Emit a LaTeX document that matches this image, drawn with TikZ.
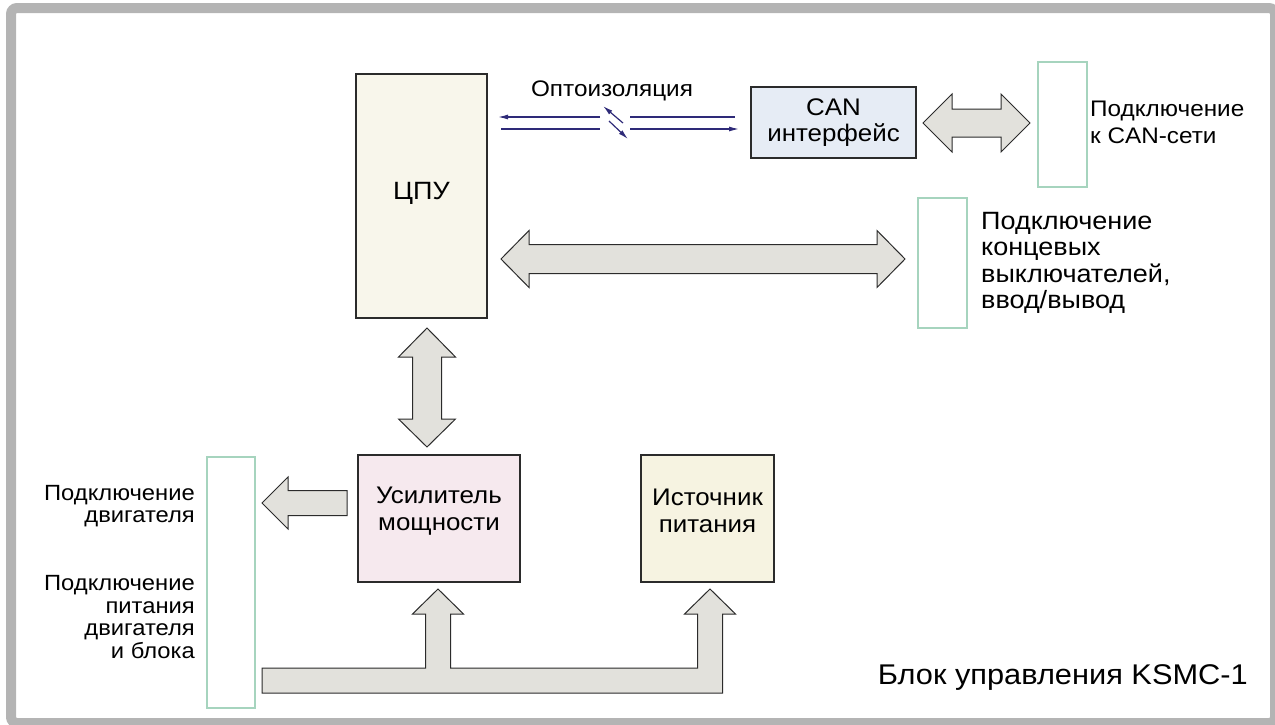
\documentclass[tikz,border=0pt]{standalone}
\usepackage{fontspec}
\setmainfont{Liberation Sans}[FakeStretch=1.08]
\usetikzlibrary{arrows.meta}

\definecolor{framegray}{HTML}{B4B4B4}
\definecolor{boxline}{HTML}{2B2B2B}
\definecolor{portgreen}{HTML}{A6D4BE}
\definecolor{arrowfill}{HTML}{E2E1DC}
\definecolor{optoblue}{HTML}{2E2A78}
\definecolor{cpucol}{HTML}{F8F6EB}
\definecolor{cancol}{HTML}{E6ECF5}
\definecolor{ampcol}{HTML}{F6E9EE}
\definecolor{psucol}{HTML}{F6F3E1}

\begin{document}
\begin{tikzpicture}[x=1pt,y=-1pt,
  box/.style={draw=boxline, line width=1.5pt, inner sep=0pt},
  port/.style={draw=portgreen, line width=1.3pt, inner sep=0pt},
  bigarrow/.style={draw=boxline, fill=arrowfill, line width=1pt, line join=miter},
  opto/.style={draw=optoblue, line width=1.2pt},
  optotip/.style={-{Latex[length=10pt,width=5pt]}},
  txt/.style={font=\fontsize{24}{26.5}\selectfont, align=center, inner sep=0pt}]
\useasboundingbox (0,0) rectangle (1275,724);
\draw[framegray, line width=10pt, rounded corners=6pt] (11,8) rectangle (1275,723);

% blocks
\node[box, fill=cpucol, minimum width=131pt, minimum height=244pt] (cpu) at (421.5,196) {};
\node[txt, font=\fontsize{25}{26.5}\selectfont] (cputext) at (421.5,193) {ЦПУ};
\node[box, fill=cancol, minimum width=165pt, minimum height=71pt, txt] (can) at (833.5,122.5) {CAN\\интерфейс};
\node[box, fill=ampcol, minimum width=162pt, minimum height=127pt] (amp) at (439,518.5) {};
\node[txt] (amptext) at (439,511) {Усилитель\\мощности};
\node[box, fill=psucol, minimum width=133pt, minimum height=127pt] (psu) at (707.5,518.5) {};
\node[txt] (psutext) at (707.5,511) {Источник\\питания};

% ports
\node[port, minimum width=49pt, minimum height=125pt] (canport) at (1062.5,124.5) {};
\node[port, minimum width=49pt, minimum height=130pt] (ioport) at (942.5,263) {};
\node[port, minimum width=48pt, minimum height=251pt] (motorport) at (231,582.5) {};

% labels
\node[txt, anchor=west, align=left, font=\fontsize{22.5}{27}\selectfont] (cantext) at (1090,122) {Подключение\\к CAN-сети};
\node[txt, anchor=west, align=left, font=\fontsize{25}{26.5}\selectfont] (iotext) at (981,263) {Подключение\\концевых\\выключателей,\\ввод/вывод};
\node[txt, anchor=east, align=right, font=\fontsize{22}{21.5}\selectfont] (motortext) at (195,506) {Подключение\\двигателя};
\node[txt, anchor=east, align=right, font=\fontsize{22}{22.5}\selectfont] (powertext) at (195,617) {Подключение\\питания\\двигателя\\и блока};
\node[txt, font=\fontsize{22.5}{26}\selectfont] (optotext) at (612,91) {Оптоизоляция};
\node[txt, anchor=east, font=\fontsize{28.5}{30}\selectfont] (title) at (1248,677) {Блок управления KSMC-1};

% optical isolation
\coordinate (upL) at (498,117);
\coordinate (upM) at (600,117);
\coordinate (upN) at (630,117);
\coordinate (upR) at (735,117);
\coordinate (loL) at (501,129);
\coordinate (loM) at (600,129);
\coordinate (loN) at (630,129);
\coordinate (loR) at (739,129);
\draw[opto, optotip] (upM) -- (upL);
\draw[opto] (upN) -- (upR);
\draw[opto] (loL) -- (loM);
\draw[opto, optotip] (loN) -- (loR);
\draw[opto, optotip] (623,123) -- (603,106);
\draw[opto, optotip] (609,121) -- (628,139);

% block arrows
\draw[bigarrow] (923,123) -- (952,94) -- (952,109) -- (1001,109) -- (1001,94) -- (1030,123)
  -- (1001,152) -- (1001,137) -- (952,137) -- (952,152) -- cycle;
\draw[bigarrow] (501,259) -- (529,230.5) -- (529,244.5) -- (877,244.5) -- (877,230.5) -- (905,259)
  -- (877,287.5) -- (877,273.5) -- (529,273.5) -- (529,287.5) -- cycle;
\draw[bigarrow] (427,328) -- (455.5,357) -- (441.5,357) -- (441.5,419) -- (455.5,419) -- (427,447)
  -- (398.5,419) -- (412.5,419) -- (412.5,357) -- (398.5,357) -- cycle;
\draw[bigarrow] (262,503) -- (288,477) -- (288,490.5) -- (347,490.5) -- (347,515.5)
  -- (288,515.5) -- (288,529) -- cycle;
\draw[bigarrow] (262,668) -- (425.5,668) -- (425.5,614) -- (412.5,614) -- (438,589) -- (463.5,614)
  -- (450.5,614) -- (450.5,668) -- (697.5,668) -- (697.5,614) -- (684.5,614) -- (710,589)
  -- (735.5,614) -- (722.5,614) -- (722.5,693) -- (262,693) -- cycle;
\end{tikzpicture}
\end{document}
